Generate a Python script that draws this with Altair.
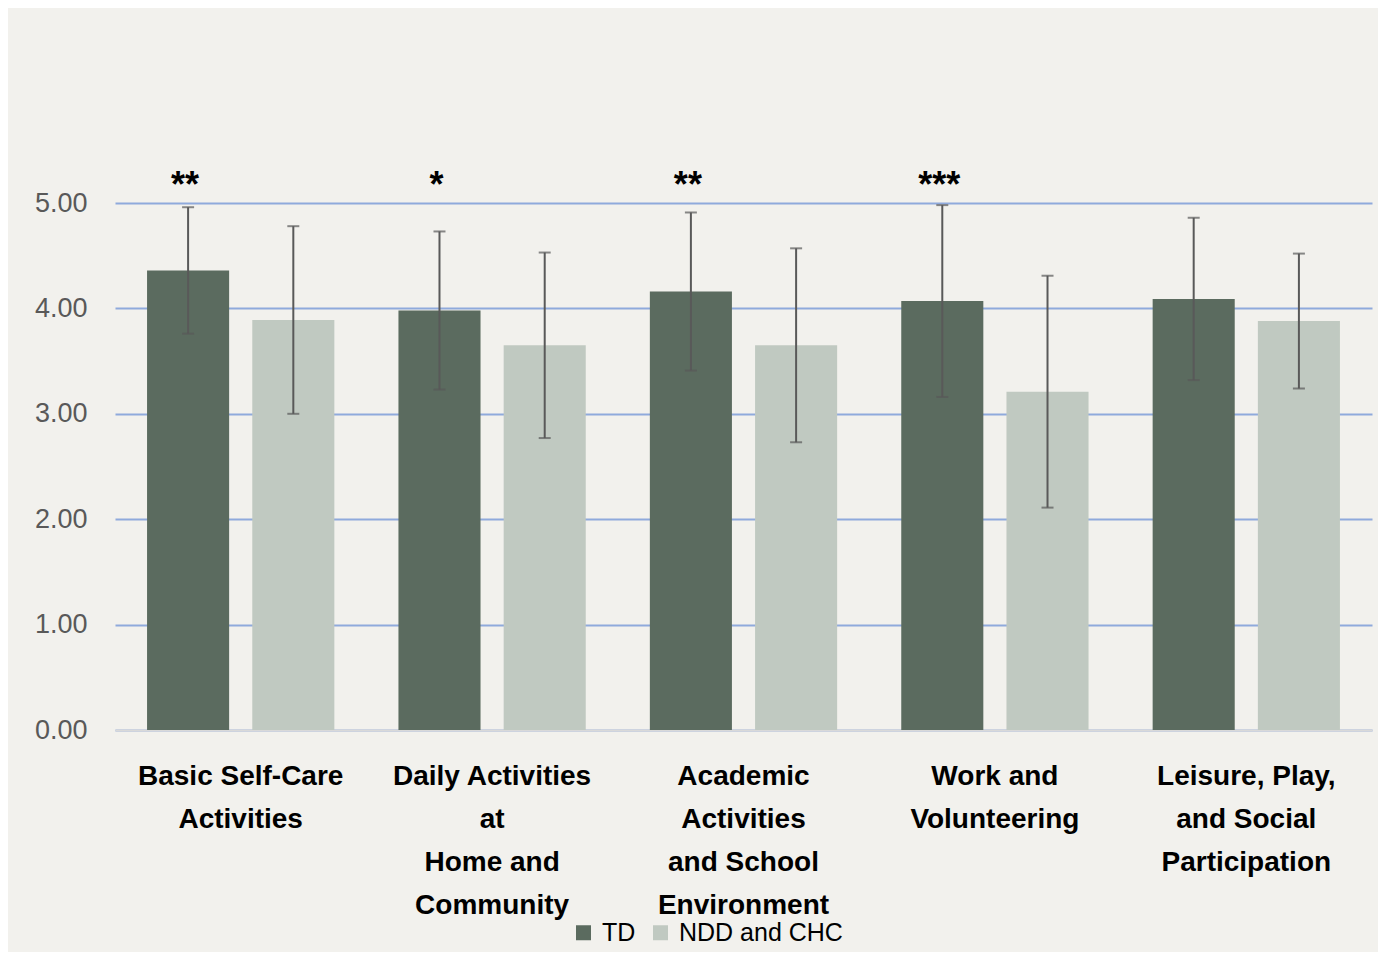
import altair as alt
import pandas as pd

categories = ["Basic Self-Care Activities", "Daily Activities at Home and Community",
              "Academic Activities and School Environment", "Work and Volunteering",
              "Leisure, Play, and Social Participation"]
cat_labels = ["Basic Self-Care\nActivities", "Daily Activities\nat\nHome and\nCommunity",
              "Academic\nActivities\nand School\nEnvironment", "Work and\nVolunteering",
              "Leisure, Play,\nand Social\nParticipation"]
groups = ["TD", "NDD and CHC"]
td_mean = [4.36, 3.98, 4.16, 4.07, 4.09]
td_sd = [0.60, 0.75, 0.75, 0.91, 0.77]
ndd_mean = [3.89, 3.65, 3.65, 3.21, 3.88]
ndd_sd = [0.89, 0.88, 0.92, 1.10, 0.64]
significance = ["**", "*", "**", "***", ""]
colors = ["#5b6b5f", "#c0c9c1"]

rows = []
for i, c in enumerate(categories):
    for g, m, s in ((groups[0], td_mean[i], td_sd[i]), (groups[1], ndd_mean[i], ndd_sd[i])):
        rows.append({"cat": c, "group": g, "mean": m, "lo": m - s, "hi": m + s,
                     "sig": significance[i] if g == groups[0] else ""})
df = pd.DataFrame(rows)
lab_df = pd.DataFrame({"cat": categories, "label": cat_labels})

FONT = "Liberation Sans"
W, H = 1257, 527

xenc = alt.X("cat:N", sort=categories,
             scale=alt.Scale(paddingInner=0.255, paddingOuter=0.1275),
             axis=alt.Axis(title=None, labels=False, ticks=False, domain=True,
                           domainColor="#d9d9d9", domainWidth=2, grid=False))
xoff = alt.XOffset("group:N", sort=groups, scale=alt.Scale(paddingInner=0.22))
yscale = alt.Scale(domain=[0, 5], nice=False)

base = alt.Chart(df)

bars = base.mark_bar().encode(
    x=xenc, xOffset=xoff,
    y=alt.Y("mean:Q", scale=yscale,
            axis=alt.Axis(title=None, values=[0, 1, 2, 3, 4, 5], format=".2f",
                          labelFontSize=27, labelColor="#595959", labelFont=FONT,
                          labelPadding=28, ticks=False, domain=False,
                          gridColor="#8faadc", gridWidth=2)),
    color=alt.Color("group:N", sort=groups, scale=alt.Scale(domain=groups, range=colors),
                    legend=alt.Legend(title=None, orient="none", legendX=456, legendY=717,
                                      direction="horizontal", symbolType="square",
                                      symbolSize=225, symbolStrokeWidth=0,
                                      labelFontSize=25, labelFont=FONT, labelColor="#000000",
                                      labelOffset=6, columnPadding=12, labelLimit=400)),
)

rules = base.mark_rule(color="#595959", strokeWidth=2).encode(
    x=xenc, xOffset=xoff, y=alt.Y("lo:Q", scale=yscale), y2="hi:Q")
cap_lo = base.mark_tick(color="#595959", thickness=2, size=12).encode(
    x=xenc, xOffset=xoff, y=alt.Y("lo:Q", scale=yscale))
cap_hi = base.mark_tick(color="#595959", thickness=2, size=12).encode(
    x=xenc, xOffset=xoff, y=alt.Y("hi:Q", scale=yscale))

stars = base.transform_filter("datum.sig != ''").mark_text(
    font=FONT, fontSize=36, fontWeight="bold", color="#000000", baseline="bottom", dx=-3
).encode(x=xenc, xOffset=xoff, y=alt.value(2), text="sig:N")

labels = alt.Chart(lab_df).mark_text(
    font=FONT, fontSize=28, fontWeight="bold", color="#000000", baseline="top",
    lineBreak="\n", lineHeight=43, align="center"
).encode(x=alt.X("cat:N", sort=categories), y=alt.value(H + 33), text="label:N")

chart = alt.layer(bars, rules, cap_lo, cap_hi, stars, labels).properties(
    width=W, height=H, background="#f2f1ed",
    padding={"left": 107, "top": 195, "right": 6, "bottom": 222},
    autosize=alt.AutoSizeParams(type="none"),
).configure_view(stroke=None)

chart.save("out.html", embed_options={"renderer": "svg", "actions": False})
